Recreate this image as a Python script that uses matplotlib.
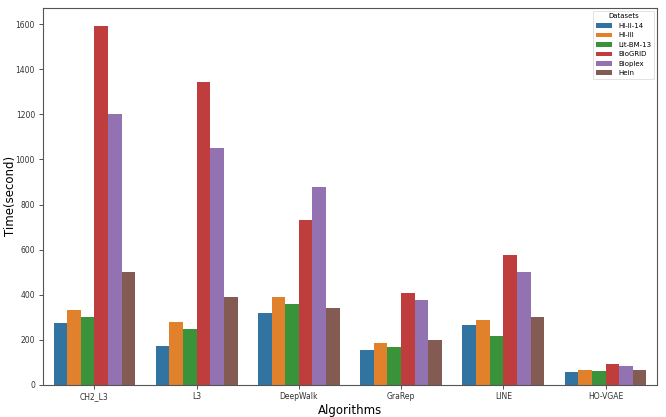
import numpy as np
import pandas as pd
import matplotlib
matplotlib.use("Agg")
import matplotlib.pyplot as plt
import seaborn as sns

algorithms = ["CH2_L3", "L3", "DeepWalk", "GraRep", "LINE", "HO-VGAE"]
datasets = ["HI-II-14", "HI-III", "Lit-BM-13", "BioGRID", "Bioplex", "Hein"]
hi_ii_14 = [274, 172, 317, 154, 265, 59]
hi_iii = [332, 277, 388, 185, 287, 65]
lit_bm_13 = [299, 249, 357, 169, 216, 61]
biogrid = [1592, 1345, 730, 407, 576, 93]
bioplex = [1203, 1050, 877, 376, 499, 86]
hein = [499, 391, 342, 199, 302, 65]

series = [hi_ii_14, hi_iii, lit_bm_13, biogrid, bioplex, hein]
rows = []
for ds, vals in zip(datasets, series):
    for alg, v in zip(algorithms, vals):
        rows.append(dict(Algorithms=alg, Dataset=ds, Time=v))
df = pd.DataFrame(rows)

fig = plt.figure(figsize=(6.66, 4.17), dpi=100)
ax = fig.add_axes([0.065, 0.077, 0.921, 0.904])
sns.barplot(data=df, x="Algorithms", y="Time", hue="Dataset", order=algorithms,
            hue_order=datasets, palette="tab10", saturation=0.75, ax=ax)
ax.set_ylim(0, 1672)
ax.set_yticks(np.arange(0, 1601, 200))
ax.tick_params(labelsize=5.5, length=3, width=0.6, colors="#333333", pad=2)
ax.tick_params(axis="y", pad=3)
ax.set_xlabel("Algorithms", fontsize=8.5, labelpad=2)
ax.set_ylabel("Time(second)", fontsize=8.5)
ax.yaxis.set_label_coords(-0.043, 0.5)
for s in ax.spines.values():
    s.set_color("#555555")
    s.set_linewidth(0.8)
leg = ax.legend(title="Datasets", loc="upper right", fontsize=5, title_fontsize=5,
                handlelength=2.4, frameon=True, borderaxespad=0.4)
leg.get_frame().set_linewidth(0.5)
fig.savefig("out.png", dpi=100)
